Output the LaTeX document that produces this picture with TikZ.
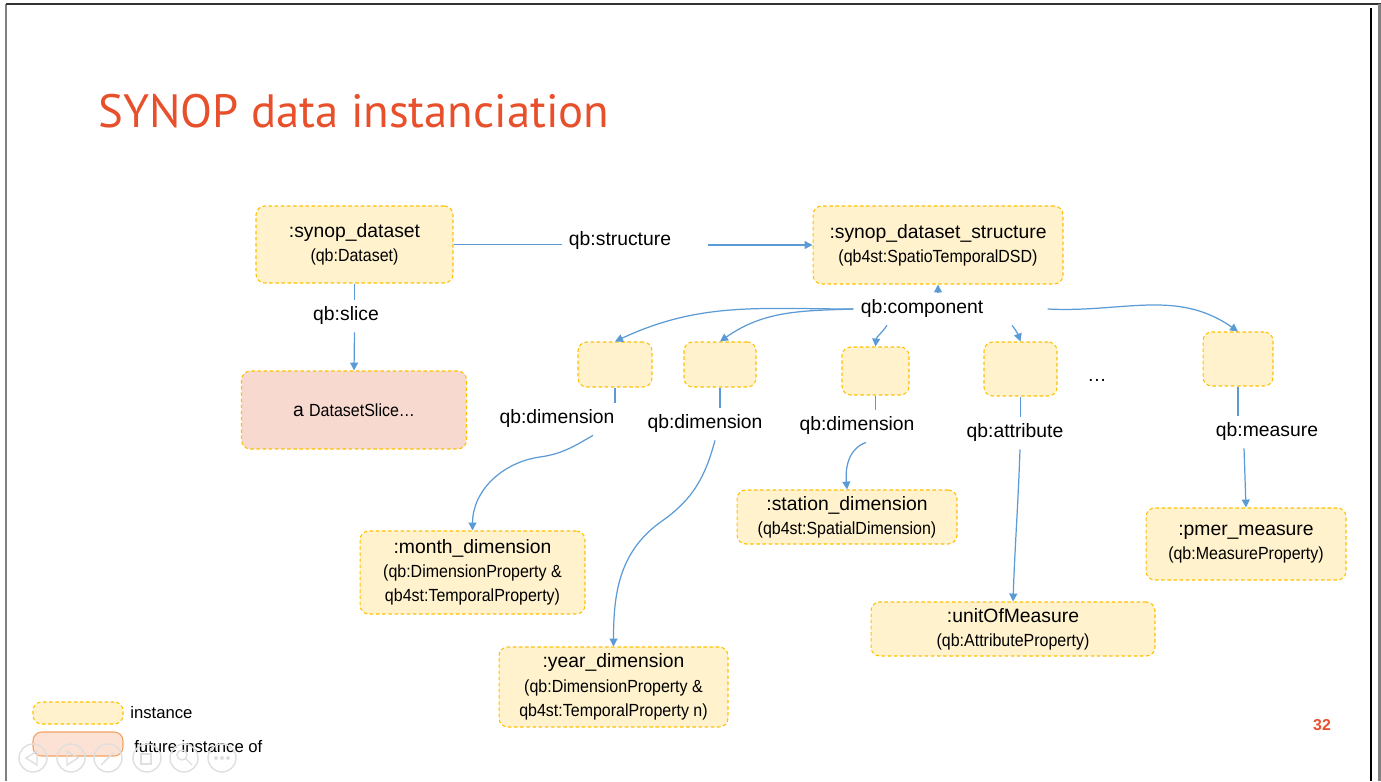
\documentclass[tikz,border=0pt]{standalone}
\usepackage{fontspec}
\setmainfont{Liberation Sans}
\newfontfamily\narrowfont[FakeStretch=0.91]{Liberation Sans}
\newfontfamily\titlefont{PT Sans}
\usetikzlibrary{arrows.meta}

\definecolor{boxfill}{HTML}{FFF2CC}
\definecolor{boxline}{HTML}{FFC000}
\definecolor{slicefill}{HTML}{F8D9CF}
\definecolor{futurefill}{HTML}{FCE2D4}
\definecolor{futureline}{HTML}{F4A261}
\definecolor{linkblue}{HTML}{5B9BD5}
\definecolor{titlered}{HTML}{E8502C}

\newcommand{\subtxt}[1]{{\narrowfont\fontsize{10pt}{13.8pt}\selectfont #1}}

\tikzset{
  inst/.style={draw=boxline, fill=boxfill, dash pattern=on 2pt off 1.5pt, line width=0.6pt,
    rounded corners=5pt, align=center, inner sep=0pt, font=\fontsize{11pt}{13.8pt}\selectfont},
  prop/.style={inner sep=4pt, font=\fontsize{11pt}{13.8pt}\selectfont},
  link/.style={draw=linkblue, line width=0.7pt},
  arr/.style={link, -{Triangle[length=4.5pt,width=4.5pt]}},
  navbtn/.style={draw=gray!25, line width=0.8pt},
}

\begin{document}
\begin{tikzpicture}[x=0.02cm, y=0.02cm]
\useasboundingbox (0,0) rectangle (1381,781);

%% slide frame
\draw[gray, line width=1.2pt] (6,0) -- (6,777);
\draw[black!80, line width=0.6pt] (6,777) -- (1381,777);
\draw[black, line width=0.6pt] (1371,0) -- (1371,773);
\fill[gray] (1378,0) rectangle (1381,777);

%% title
\node[anchor=base west, inner sep=0pt, text=titlered,
      font=\titlefont\fontsize{26.6pt}{30pt}\selectfont] (title) at (98,653) {SYNOP data instanciation};

%% dataset and structure
\node[inst, minimum width=3.94cm, minimum height=1.54cm] (ds) at (354.5,536.5)
     {:synop\_dataset\\\subtxt{(qb:Dataset)}};
\node[inst, minimum width=5cm, minimum height=1.56cm] (dsd) at (938,536)
     {:synop\_dataset\_structure\\\subtxt{(qb4st:SpatioTemporalDSD)}};
\node[inst, fill=slicefill, minimum width=4.5cm, minimum height=1.56cm] (slice) at (354,371)
     {a \subtxt{DatasetSlice…}};

%% components
\node[inst, minimum width=1.48cm, minimum height=0.9cm] (b1) at (615,416.5) {};
\node[inst, minimum width=1.44cm, minimum height=0.9cm] (b2) at (720,416.5) {};
\node[inst, minimum width=1.34cm, minimum height=0.96cm] (b3) at (875.5,410) {};
\node[inst, minimum width=1.46cm, minimum height=1.08cm] (b4) at (1020.5,412) {};
\node[inst, minimum width=1.4cm, minimum height=1.08cm] (b5) at (1238,422) {};
\node[prop] (more) at (1097,401) {…};

%% properties
\node[inst, minimum width=4.5cm, minimum height=1.66cm] (month) at (472.5,208.5)
     {:month\_dimension\\\subtxt{(qb:DimensionProperty \&}\\\subtxt{qb4st:TemporalProperty)}};
\node[inst, minimum width=4.58cm, minimum height=1.6cm] (year) at (613.5,94)
     {:year\_dimension\\\subtxt{(qb:DimensionProperty \&}\\\subtxt{qb4st:TemporalProperty n)}};
\node[inst, minimum width=4.4cm, minimum height=1.08cm] (station) at (847,264)
     {:station\_dimension\\\subtxt{(qb4st:SpatialDimension)}};
\node[inst, minimum width=5.68cm, minimum height=1.08cm] (unit) at (1013,152)
     {:unitOfMeasure\\\subtxt{(qb:AttributeProperty)}};
\node[inst, minimum width=4cm, minimum height=1.44cm] (pmer) at (1246,237)
     {:pmer\_measure\\\subtxt{(qb:MeasureProperty)}};

%% edge labels
\node[prop] (structlbl) at (620,540) {qb:structure};
\node[prop] (slicelbl) at (346,465) {qb:slice};
\node[prop] (comp) at (922,472) {qb:component};
\node[prop] (dim1) at (557,362) {qb:dimension};
\node[prop] (dim2) at (705,357) {qb:dimension};
\node[prop] (dim3) at (857,355) {qb:dimension};
\node[prop] (attr) at (1015,348) {qb:attribute};
\node[prop] (meas) at (1267,349) {qb:measure};

%% bends
\coordinate (bend1) at (540,324);
\coordinate (bend2) at (662,260);

%%% edges
\draw[link] (ds.east) -- (ds.east -| structlbl.west);                %% structure
\draw[arr] ([xshift=0.6cm]structlbl.east |- dsd.west) -- (dsd.west);
\draw[link] (ds.south) -- (ds.south |- slicelbl.north);              %% slice
\draw[arr] (ds.south |- slicelbl.south) -- (slice.north);
\draw[arr] (comp.north -| dsd.south) -- (dsd.south);                 %% component
\draw[arr] (comp.west) to[out=180, in=25] (b1.north);
\draw[arr] (comp.west) to[out=182, in=35] (b2.north);
\draw[arr] ([xshift=-0.7cm]comp.south) to[out=235, in=85] (b3.north);
\draw[arr] ([xshift=1.8cm]comp.south) to[out=-50, in=110] (b4.north);
\draw[arr] ([xshift=1.14cm]comp.east) to[out=-3, in=145] (b5.north);
\draw[link] (b1.south) -- (b1.south |- dim1.north);                  %% dimension
\draw[arr] ([xshift=0.72cm]dim1.south) to[out=-150, in=8] (bend1) to[out=188, in=90] (month.north);
\draw[link] (b2.south) -- (b2.south |- dim2.north);
\draw[arr] ([xshift=0.2cm]dim2.south) to[out=-105, in=35] (bend2) to[out=215, in=90] (year.north);
\draw[link] (b3.south) -- (b3.south |- dim3.north);
\draw[arr] ([xshift=0.18cm]dim3.south) to[out=200, in=95] (station.north);
\draw[link] (b4.south) -- (b4.south |- attr.north);                  %% attribute
\draw[arr] ([xshift=0.1cm]attr.south) to[out=-92, in=88] (unit.north);
\draw[link] (b5.south) -- (b5.south |- meas.north);                  %% measure
\draw[arr] ([xshift=-0.46cm]meas.south) to[out=-88, in=92] (pmer.north);

%% legend
\node[inst, minimum width=1.8cm, minimum height=0.44cm] (leginst) at (78,68) {};
\node[inst, solid, draw=futureline, fill=futurefill, minimum width=1.8cm, minimum height=0.48cm] (legfut) at (78,37) {};
\node[anchor=west, inner sep=0pt, font=\fontsize{9.5pt}{11pt}\selectfont] (leginsttxt) at (130,68) {instance};
\node[anchor=west, inner sep=0pt, font=\fontsize{9.5pt}{11pt}\selectfont] (legfuttxt) at (134,34) {future instance of};

%% page number
\node[text=titlered, font=\bfseries\fontsize{9pt}{10pt}\selectfont] (page) at (1322,56) {32};

%% viewer buttons
\draw[navbtn] (33,23) circle (14);
\draw[navbtn] (71,23) circle (14);
\draw[navbtn] (108,23) circle (14);
\draw[navbtn] (147,23) circle (14);
\draw[navbtn] (184,23) circle (14);
\draw[navbtn] (222,23) circle (14);
\draw[navbtn] (37,30) -- (26,23) -- (37,16) -- cycle;
\draw[navbtn] (67,30) -- (78,23) -- (67,16) -- cycle;
\draw[navbtn] (101,16) -- (114,29);
\draw[navbtn] (141,17) rectangle (151,27);
\draw[navbtn] (182,26) circle (5) (186,22) -- (192,16);
\fill[gray!25] (216,23) circle (2) (222,23) circle (2) (228,23) circle (2);
\end{tikzpicture}
\end{document}
